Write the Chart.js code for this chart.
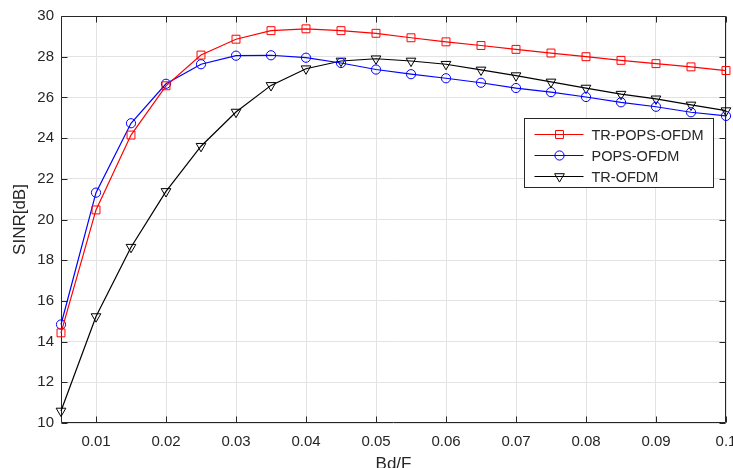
<!DOCTYPE html>
<html><head><meta charset="utf-8">
<script src="https://cdn.jsdelivr.net/npm/chart.js@4/dist/chart.umd.min.js"></script>
<style>html,body{margin:0;padding:0;background:#fff}#wrap{width:733px;height:468px}</style>
</head><body><div id="wrap"><canvas id="c" width="733" height="468"></canvas></div>
<script>
const xValues = [0.005,0.01,0.015,0.02,0.025,0.03,0.035,0.04,0.045,0.05,0.055,0.06,0.065,0.07,0.075,0.08,0.085,0.09,0.095,0.1];
const trPopsOfdm = [14.43,20.47,24.15,26.57,28.08,28.86,29.28,29.37,29.28,29.15,28.93,28.73,28.55,28.36,28.18,28.0,27.82,27.66,27.5,27.32];
const popsOfdm   = [14.84,21.32,24.73,26.67,27.63,28.05,28.07,27.95,27.69,27.37,27.14,26.94,26.72,26.46,26.26,26.02,25.76,25.54,25.27,25.09];
const trOfdm     = [10.59,15.23,18.64,21.38,23.6,25.28,26.59,27.41,27.79,27.9,27.79,27.63,27.35,27.07,26.76,26.46,26.16,25.93,25.63,25.35];
const seriesLabels = ['TR-POPS-OFDM','POPS-OFDM','TR-OFDM'];
const xTicks = [0.01,0.02,0.03,0.04,0.05,0.06,0.07,0.08,0.09,0.1];
const xTickLabels = ['0.01','0.02','0.03','0.04','0.05','0.06','0.07','0.08','0.09','0.1'];
const yTicks = [10,12,14,16,18,20,22,24,26,28,30];

const FONT = "'Liberation Sans', Arial, Helvetica, sans-serif";
const TXT = '#262626';

function pts(ys){ return xValues.map((x,i)=>({x:x,y:ys[i]})); }

function drawMarker(ctx, style, r, rot, x, y){
  const H = Chart.helpers;
  if (H && H.drawPoint){
    H.drawPoint(ctx, {pointStyle: style, radius: r, rotation: rot, borderWidth: 1}, x, y);
    return;
  }
  ctx.beginPath();
  if (style === 'circle') ctx.arc(x, y, r, 0, Math.PI*2);
  else if (style === 'rect'){ const s = Math.SQRT1_2*r; ctx.rect(x-s, y-s, 2*s, 2*s); }
  else { const k = r*Math.sqrt(3)/2; ctx.moveTo(x, y+r); ctx.lineTo(x-k, y-r/2); ctx.lineTo(x+k, y-r/2); ctx.closePath(); }
  ctx.stroke();
}

const framePlugin = {
  id: 'frame',
  beforeDatasetsDraw(chart){
    const ctx = chart.ctx, a = chart.chartArea;
    const xs = chart.scales.x, ys = chart.scales.y;
    ctx.save();
    ctx.strokeStyle = TXT; ctx.lineWidth = 1;
    ctx.beginPath();
    const L = Math.round(a.left)+0.5, R = Math.round(a.right)-0.5, T = Math.round(a.top)+0.5, B = Math.round(a.bottom)-0.5;
    ctx.moveTo(L,T); ctx.lineTo(R,T); ctx.lineTo(R,B); ctx.lineTo(L,B); ctx.closePath();
    const tl = 6;
    xTicks.forEach(v=>{
      const p = Math.round(xs.getPixelForValue(v))+0.5;
      ctx.moveTo(p,B); ctx.lineTo(p,B-tl);
      ctx.moveTo(p,T); ctx.lineTo(p,T+tl);
    });
    yTicks.forEach(v=>{
      const p = Math.round(ys.getPixelForValue(v))+0.5;
      ctx.moveTo(L,p); ctx.lineTo(L+tl,p);
      ctx.moveTo(R,p); ctx.lineTo(R-tl,p);
    });
    ctx.stroke();
    ctx.restore();
  }
};

const legendPlugin = {
  id: 'boxLegend',
  afterDraw(chart){
    const ctx = chart.ctx, a = chart.chartArea;
    const w = 189, h = 69;
    const x0 = Math.round(a.right - 13 - w) + 0.5, y0 = Math.round(a.top + 102) + 0.5;
    ctx.save();
    ctx.fillStyle = '#fff'; ctx.strokeStyle = TXT; ctx.lineWidth = 1;
    ctx.fillRect(x0, y0, w, h); ctx.strokeRect(x0, y0, w, h);
    ctx.font = '14.5px ' + FONT; ctx.textBaseline = 'middle'; ctx.textAlign = 'left';
    chart.data.datasets.forEach((ds, i)=>{
      const yy = y0 + 16 + i*21;
      ctx.strokeStyle = ds.borderColor; ctx.lineWidth = ds.borderWidth;
      ctx.beginPath(); ctx.moveTo(x0+10, yy); ctx.lineTo(x0+59, yy); ctx.stroke();
      ctx.lineWidth = ds.pointBorderWidth; ctx.strokeStyle = ds.pointBorderColor; ctx.fillStyle = 'rgba(0,0,0,0)';
      drawMarker(ctx, ds.pointStyle, ds.pointRadius, ds.pointRotation || 0, x0+35, yy);
      ctx.fillStyle = TXT;
      ctx.fillText(ds.label, x0+67, yy+1);
    });
    ctx.restore();
  }
};

const common = {borderWidth: 1.2, pointBorderWidth: 1, pointBackgroundColor: 'rgba(0,0,0,0)', fill: false, tension: 0, clip: false};

new Chart(document.getElementById('c'), {
  type: 'line',
  data: {
    datasets: [
      Object.assign({label: seriesLabels[0], data: pts(trPopsOfdm), borderColor: '#ff0000', pointBorderColor: '#ff0000', pointStyle: 'rect', pointRadius: 5.6}, common),
      Object.assign({label: seriesLabels[1], data: pts(popsOfdm), borderColor: '#0000ff', pointBorderColor: '#0000ff', pointStyle: 'circle', pointRadius: 4.6}, common),
      Object.assign({label: seriesLabels[2], data: pts(trOfdm), borderColor: '#000000', pointBorderColor: '#000000', pointStyle: 'triangle', pointRotation: 180, pointRadius: 5.6}, common)
    ]
  },
  options: {
    responsive: false, animation: false, devicePixelRatio: 1,
    layout: {padding: {left: 0, right: 7, top: 15, bottom: 0}},
    plugins: {legend: {display: false}, tooltip: {enabled: false}},
    elements: {point: {hoverRadius: 0}},
    scales: {
      x: {
        type: 'linear', min: 0.005, max: 0.1,
        afterBuildTicks: s => { s.ticks = xTicks.map(v=>({value: v})); },
        afterFit: s => { s.height = 45; s.paddingLeft = 0; s.paddingRight = 0; },
        ticks: {autoSkip: false, maxRotation: 0, padding: 10, color: TXT, font: {family: FONT, size: 15},
                callback: (v, i) => xTickLabels[i]},
        grid: {color: '#e3e3e3', lineWidth: 1, drawTicks: false},
        border: {display: false},
        title: {display: true, text: 'Bd/F', color: TXT, font: {family: FONT, size: 17}, padding: {top: 0, bottom: -7}}
      },
      y: {
        type: 'linear', min: 10, max: 30,
        afterBuildTicks: s => { s.ticks = yTicks.map(v=>({value: v})); },
        afterFit: s => { s.width = 61; },
        ticks: {autoSkip: false, padding: 7, color: TXT, font: {family: FONT, size: 15}, callback: v => String(v)},
        grid: {color: '#e3e3e3', lineWidth: 1, drawTicks: false},
        border: {display: false},
        title: {display: true, text: 'SINR[dB]', color: TXT, font: {family: FONT, size: 17}, padding: {top: 10, bottom: 0}}
      }
    }
  },
  plugins: [framePlugin, legendPlugin]
});
</script></body></html>
